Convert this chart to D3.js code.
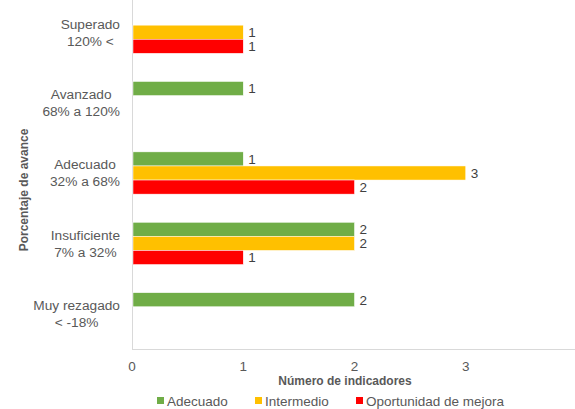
<!DOCTYPE html>
<html lang="es">
<head>
<meta charset="utf-8">
<script src="https://cdn.jsdelivr.net/npm/d3@7"></script>
<style>
  body { margin: 0; background: #fff; }
  svg { font-family: "Liberation Sans", Arial, sans-serif; }
</style>
</head>
<body>
<svg width="575" height="409"></svg>
<script>
var categorias = [["Superado", "120% <"], ["Avanzado", "68% a 120%"], ["Adecuado", "32% a 68%"], ["Insuficiente", "7% a 32%"], ["Muy rezagado", "< -18%"]];
var series = ["Adecuado", "Intermedio", "Oportunidad de mejora"];
var colores = ["#70AD47", "#FFC000", "#FF0000"];
var adecuado = [null, 1, 1, 2, 2];
var intermedio = [1, null, 3, 2, null];
var oportunidad = [1, null, 2, 1, null];
var ticks = [0, 1, 2, 3];

var valores = [adecuado, intermedio, oportunidad];
var svg = d3.select("svg");
var mLeft = 132, mRight = 577, mTop = -3, mBottom = 349;

var x = d3.scaleLinear().domain([0, 4]).range([mLeft, mRight]);
var y = d3.scaleBand().domain(d3.range(categorias.length)).range([mTop, mBottom]).paddingInner(0.4).paddingOuter(0.2);
var ys = d3.scaleBand().domain(d3.range(series.length)).range([0, y.bandwidth()]);

// eje vertical y horizontal
svg.append("line").attr("x1", mLeft + 0.5).attr("x2", mLeft + 0.5).attr("y1", 0).attr("y2", mBottom)
  .attr("stroke", "#d9d9d9");
svg.append("line").attr("x1", mLeft).attr("x2", 575).attr("y1", mBottom + 0.5).attr("y2", mBottom + 0.5)
  .attr("stroke", "#d9d9d9");

series.forEach(function(s, si) {
  var g = svg.append("g");
  valores[si].forEach(function(v, i) {
    if (v == null) return;
    g.append("rect")
      .attr("x", x(0) + 1)
      .attr("y", y(i) + ys(si))
      .attr("width", x(v) - x(0) - 1)
      .attr("height", ys.bandwidth())
      .attr("fill", colores[si])
      .attr("stroke", "#fff").attr("stroke-width", 0.5);
    g.append("text")
      .attr("x", x(v) + 5)
      .attr("y", y(i) + ys(si) + ys.bandwidth() / 2)
      .attr("dy", "0.36em")
      .attr("font-size", 13.5)
      .attr("fill", "#404040")
      .text(v);
  });
});

// etiquetas de categorías (centradas entre sí, alineadas a la derecha en 120)
categorias.forEach(function(c, i) {
  var cy = y(i) + y.bandwidth() / 2;
  var t = svg.append("text").attr("text-anchor", "middle").attr("font-size", 13.7).attr("fill", "#595959");
  var a = t.append("tspan").attr("y", cy - 8.5).attr("dy", "0.36em").text(c[0]);
  var b = t.append("tspan").attr("y", cy + 8.5).attr("dy", "0.36em").text(c[1]);
  var w = Math.max(a.node().getComputedTextLength(), b.node().getComputedTextLength());
  a.attr("x", 120 - w / 2);
  b.attr("x", 120 - w / 2);
});

// ticks eje x
svg.append("g").selectAll("text").data(ticks).join("text")
  .attr("x", function(d) { return x(d); })
  .attr("y", 366).attr("dy", "0.36em")
  .attr("text-anchor", "middle").attr("font-size", 13.5).attr("fill", "#595959")
  .text(function(d) { return d; });

svg.append("text").attr("x", 345).attr("y", 381).attr("dy", "0.36em")
  .attr("text-anchor", "middle").attr("font-size", 12).attr("font-weight", "bold").attr("fill", "#595959")
  .text("Número de indicadores");

svg.append("text").attr("transform", "translate(24,190) rotate(-90)").attr("dy", "0.36em")
  .attr("text-anchor", "middle").attr("font-size", 12).attr("font-weight", "bold").attr("fill", "#595959")
  .text("Porcentaje de avance");

// leyenda
var legX = [157, 255, 356];
series.forEach(function(s, si) {
  svg.append("rect").attr("x", legX[si]).attr("y", 397).attr("width", 7).attr("height", 7).attr("fill", colores[si]);
  svg.append("text").attr("x", legX[si] + 10).attr("y", 401).attr("dy", "0.36em")
    .attr("font-size", 13.5).attr("fill", "#595959").text(s);
});
</script>
</body>
</html>
